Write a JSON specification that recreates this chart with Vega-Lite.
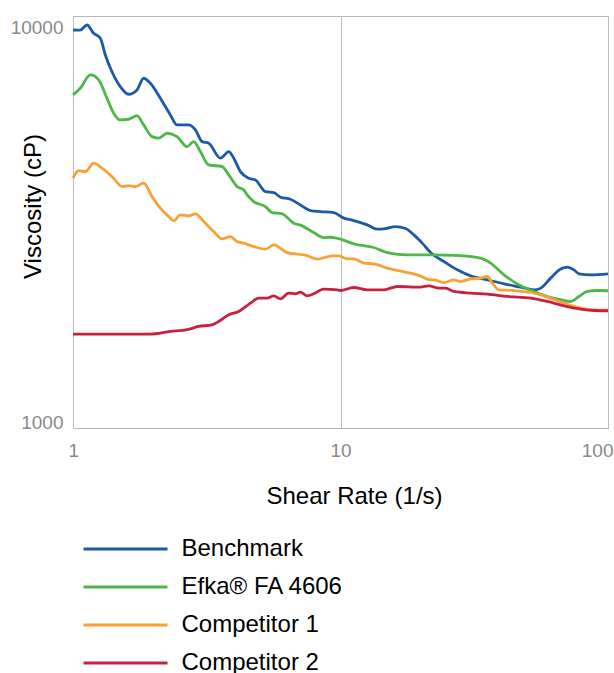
{
  "$schema": "https://vega.github.io/schema/vega-lite/v6.json",
  "width": 535,
  "height": 412,
  "autosize": {"type": "none"},
  "padding": {"left": 73, "top": 16, "right": 6, "bottom": 245},
  "config": {
    "font": "Liberation Sans",
    "view": {"stroke": "#b8b8b8", "strokeWidth": 1}
  },
  "data": {
    "values": [
      {"series": "Benchmark", "rate": 1.0, "viscosity": 9884},
      {"series": "Benchmark", "rate": 1.065, "viscosity": 9880},
      {"series": "Benchmark", "rate": 1.128, "viscosity": 10176},
      {"series": "Benchmark", "rate": 1.194, "viscosity": 9696},
      {"series": "Benchmark", "rate": 1.265, "viscosity": 9417},
      {"series": "Benchmark", "rate": 1.321, "viscosity": 8543},
      {"series": "Benchmark", "rate": 1.379, "viscosity": 7918},
      {"series": "Benchmark", "rate": 1.503, "viscosity": 7100},
      {"series": "Benchmark", "rate": 1.614, "viscosity": 6792},
      {"series": "Benchmark", "rate": 1.735, "viscosity": 6965},
      {"series": "Benchmark", "rate": 1.837, "viscosity": 7458},
      {"series": "Benchmark", "rate": 1.946, "viscosity": 7244},
      {"series": "Benchmark", "rate": 2.121, "viscosity": 6636},
      {"series": "Benchmark", "rate": 2.312, "viscosity": 6020},
      {"series": "Benchmark", "rate": 2.449, "viscosity": 5679},
      {"series": "Benchmark", "rate": 2.707, "viscosity": 5679},
      {"series": "Benchmark", "rate": 2.868, "viscosity": 5515},
      {"series": "Benchmark", "rate": 3.038, "viscosity": 5151},
      {"series": "Benchmark", "rate": 3.216, "viscosity": 5104},
      {"series": "Benchmark", "rate": 3.557, "viscosity": 4677},
      {"series": "Benchmark", "rate": 3.821, "viscosity": 4860},
      {"series": "Benchmark", "rate": 3.99, "viscosity": 4677},
      {"series": "Benchmark", "rate": 4.225, "viscosity": 4324},
      {"series": "Benchmark", "rate": 4.538, "viscosity": 4160},
      {"series": "Benchmark", "rate": 4.808, "viscosity": 4120},
      {"series": "Benchmark", "rate": 5.242, "viscosity": 3848},
      {"series": "Benchmark", "rate": 5.629, "viscosity": 3825},
      {"series": "Benchmark", "rate": 5.964, "viscosity": 3724},
      {"series": "Benchmark", "rate": 6.501, "viscosity": 3681},
      {"series": "Benchmark", "rate": 7.085, "viscosity": 3560},
      {"series": "Benchmark", "rate": 7.723, "viscosity": 3444},
      {"series": "Benchmark", "rate": 8.418, "viscosity": 3424},
      {"series": "Benchmark", "rate": 9.439, "viscosity": 3405},
      {"series": "Benchmark", "rate": 10.29, "viscosity": 3295},
      {"series": "Benchmark", "rate": 11.21, "viscosity": 3249},
      {"series": "Benchmark", "rate": 12.59, "viscosity": 3169},
      {"series": "Benchmark", "rate": 13.72, "viscosity": 3090},
      {"series": "Benchmark", "rate": 14.73, "viscosity": 3101},
      {"series": "Benchmark", "rate": 16.06, "viscosity": 3138},
      {"series": "Benchmark", "rate": 17.51, "viscosity": 3101},
      {"series": "Benchmark", "rate": 18.8, "viscosity": 2989},
      {"series": "Benchmark", "rate": 20.21, "viscosity": 2848},
      {"series": "Benchmark", "rate": 21.72, "viscosity": 2696},
      {"series": "Benchmark", "rate": 24.35, "viscosity": 2558},
      {"series": "Benchmark", "rate": 27.33, "viscosity": 2437},
      {"series": "Benchmark", "rate": 30.65, "viscosity": 2353},
      {"series": "Benchmark", "rate": 35.39, "viscosity": 2299},
      {"series": "Benchmark", "rate": 40.83, "viscosity": 2246},
      {"series": "Benchmark", "rate": 47.15, "viscosity": 2203},
      {"series": "Benchmark", "rate": 52.88, "viscosity": 2169},
      {"series": "Benchmark", "rate": 56.0, "viscosity": 2190},
      {"series": "Benchmark", "rate": 61.04, "viscosity": 2322},
      {"series": "Benchmark", "rate": 66.53, "viscosity": 2448},
      {"series": "Benchmark", "rate": 70.49, "viscosity": 2477},
      {"series": "Benchmark", "rate": 74.62, "viscosity": 2437},
      {"series": "Benchmark", "rate": 77.9, "viscosity": 2381},
      {"series": "Benchmark", "rate": 86.15, "viscosity": 2367},
      {"series": "Benchmark", "rate": 100, "viscosity": 2381},

      {"series": "Efka® FA 4606", "rate": 1.0, "viscosity": 6766},
      {"series": "Efka® FA 4606", "rate": 1.065, "viscosity": 7036},
      {"series": "Efka® FA 4606", "rate": 1.161, "viscosity": 7602},
      {"series": "Efka® FA 4606", "rate": 1.247, "viscosity": 7385},
      {"series": "Efka® FA 4606", "rate": 1.34, "viscosity": 6636},
      {"series": "Efka® FA 4606", "rate": 1.419, "viscosity": 6080},
      {"series": "Efka® FA 4606", "rate": 1.503, "viscosity": 5846},
      {"series": "Efka® FA 4606", "rate": 1.614, "viscosity": 5870},
      {"series": "Efka® FA 4606", "rate": 1.735, "viscosity": 5995},
      {"series": "Efka® FA 4606", "rate": 1.837, "viscosity": 5679},
      {"series": "Efka® FA 4606", "rate": 1.975, "viscosity": 5304},
      {"series": "Efka® FA 4606", "rate": 2.09, "viscosity": 5255},
      {"series": "Efka® FA 4606", "rate": 2.247, "viscosity": 5410},
      {"series": "Efka® FA 4606", "rate": 2.449, "viscosity": 5304},
      {"series": "Efka® FA 4606", "rate": 2.67, "viscosity": 5004},
      {"series": "Efka® FA 4606", "rate": 2.826, "viscosity": 5151},
      {"series": "Efka® FA 4606", "rate": 2.994, "viscosity": 4860},
      {"series": "Efka® FA 4606", "rate": 3.216, "viscosity": 4497},
      {"series": "Efka® FA 4606", "rate": 3.609, "viscosity": 4453},
      {"series": "Efka® FA 4606", "rate": 3.821, "viscosity": 4241},
      {"series": "Efka® FA 4606", "rate": 4.107, "viscosity": 3962},
      {"series": "Efka® FA 4606", "rate": 4.346, "viscosity": 3887},
      {"series": "Efka® FA 4606", "rate": 4.477, "viscosity": 3775},
      {"series": "Efka® FA 4606", "rate": 4.739, "viscosity": 3630},
      {"series": "Efka® FA 4606", "rate": 5.242, "viscosity": 3526},
      {"series": "Efka® FA 4606", "rate": 5.551, "viscosity": 3405},
      {"series": "Efka® FA 4606", "rate": 6.051, "viscosity": 3379},
      {"series": "Efka® FA 4606", "rate": 6.689, "viscosity": 3200},
      {"series": "Efka® FA 4606", "rate": 7.191, "viscosity": 3150},
      {"series": "Efka® FA 4606", "rate": 7.945, "viscosity": 3029},
      {"series": "Efka® FA 4606", "rate": 8.659, "viscosity": 2942},
      {"series": "Efka® FA 4606", "rate": 9.175, "viscosity": 2948},
      {"series": "Efka® FA 4606", "rate": 10.0, "viscosity": 2915},
      {"series": "Efka® FA 4606", "rate": 11.21, "viscosity": 2836},
      {"series": "Efka® FA 4606", "rate": 13.32, "viscosity": 2776},
      {"series": "Efka® FA 4606", "rate": 14.95, "viscosity": 2696},
      {"series": "Efka® FA 4606", "rate": 17.77, "viscosity": 2660},
      {"series": "Efka® FA 4606", "rate": 21.72, "viscosity": 2660},
      {"series": "Efka® FA 4606", "rate": 28.11, "viscosity": 2649},
      {"series": "Efka® FA 4606", "rate": 33.4, "viscosity": 2609},
      {"series": "Efka® FA 4606", "rate": 36.4, "viscosity": 2534},
      {"series": "Efka® FA 4606", "rate": 40.83, "viscosity": 2367},
      {"series": "Efka® FA 4606", "rate": 47.15, "viscosity": 2220},
      {"series": "Efka® FA 4606", "rate": 52.88, "viscosity": 2148},
      {"series": "Efka® FA 4606", "rate": 59.33, "viscosity": 2086},
      {"series": "Efka® FA 4606", "rate": 66.53, "viscosity": 2047},
      {"series": "Efka® FA 4606", "rate": 72.53, "viscosity": 2026},
      {"series": "Efka® FA 4606", "rate": 77.9, "viscosity": 2086},
      {"series": "Efka® FA 4606", "rate": 83.73, "viscosity": 2148},
      {"series": "Efka® FA 4606", "rate": 91.26, "viscosity": 2160},
      {"series": "Efka® FA 4606", "rate": 100, "viscosity": 2157},

      {"series": "Competitor 1", "rate": 1.0, "viscosity": 4160},
      {"series": "Competitor 1", "rate": 1.049, "viscosity": 4350},
      {"series": "Competitor 1", "rate": 1.112, "viscosity": 4324},
      {"series": "Competitor 1", "rate": 1.194, "viscosity": 4542},
      {"series": "Competitor 1", "rate": 1.284, "viscosity": 4411},
      {"series": "Competitor 1", "rate": 1.419, "viscosity": 4160},
      {"series": "Competitor 1", "rate": 1.525, "viscosity": 3962},
      {"series": "Competitor 1", "rate": 1.614, "viscosity": 3985},
      {"series": "Competitor 1", "rate": 1.711, "viscosity": 3962},
      {"series": "Competitor 1", "rate": 1.837, "viscosity": 4042},
      {"series": "Competitor 1", "rate": 1.975, "viscosity": 3737},
      {"series": "Competitor 1", "rate": 2.121, "viscosity": 3493},
      {"series": "Competitor 1", "rate": 2.279, "viscosity": 3326},
      {"series": "Competitor 1", "rate": 2.378, "viscosity": 3245},
      {"series": "Competitor 1", "rate": 2.52, "viscosity": 3359},
      {"series": "Competitor 1", "rate": 2.707, "viscosity": 3340},
      {"series": "Competitor 1", "rate": 2.868, "viscosity": 3379},
      {"series": "Competitor 1", "rate": 3.08, "viscosity": 3231},
      {"series": "Competitor 1", "rate": 3.357, "viscosity": 3047},
      {"series": "Competitor 1", "rate": 3.609, "viscosity": 2920},
      {"series": "Competitor 1", "rate": 3.877, "viscosity": 2960},
      {"series": "Competitor 1", "rate": 4.107, "viscosity": 2875},
      {"series": "Competitor 1", "rate": 4.346, "viscosity": 2848},
      {"series": "Competitor 1", "rate": 4.739, "viscosity": 2792},
      {"series": "Competitor 1", "rate": 5.242, "viscosity": 2750},
      {"series": "Competitor 1", "rate": 5.629, "viscosity": 2820},
      {"series": "Competitor 1", "rate": 6.318, "viscosity": 2696},
      {"series": "Competitor 1", "rate": 7.507, "viscosity": 2649},
      {"series": "Competitor 1", "rate": 8.181, "viscosity": 2594},
      {"series": "Competitor 1", "rate": 9.31, "viscosity": 2644},
      {"series": "Competitor 1", "rate": 9.854, "viscosity": 2644},
      {"series": "Competitor 1", "rate": 10.59, "viscosity": 2598},
      {"series": "Competitor 1", "rate": 11.21, "viscosity": 2598},
      {"series": "Competitor 1", "rate": 12.22, "viscosity": 2534},
      {"series": "Competitor 1", "rate": 13.32, "viscosity": 2524},
      {"series": "Competitor 1", "rate": 14.95, "viscosity": 2461},
      {"series": "Competitor 1", "rate": 17.77, "viscosity": 2399},
      {"series": "Competitor 1", "rate": 19.36, "viscosity": 2367},
      {"series": "Competitor 1", "rate": 21.72, "viscosity": 2299},
      {"series": "Competitor 1", "rate": 22.34, "viscosity": 2299},
      {"series": "Competitor 1", "rate": 24.35, "viscosity": 2263},
      {"series": "Competitor 1", "rate": 26.54, "viscosity": 2299},
      {"series": "Competitor 1", "rate": 28.11, "viscosity": 2276},
      {"series": "Competitor 1", "rate": 30.65, "viscosity": 2312},
      {"series": "Competitor 1", "rate": 33.4, "viscosity": 2322},
      {"series": "Competitor 1", "rate": 35.39, "viscosity": 2344},
      {"series": "Competitor 1", "rate": 36.94, "viscosity": 2255},
      {"series": "Competitor 1", "rate": 39.1, "viscosity": 2169},
      {"series": "Competitor 1", "rate": 44.5, "viscosity": 2160},
      {"series": "Competitor 1", "rate": 51.39, "viscosity": 2135},
      {"series": "Competitor 1", "rate": 59.33, "viscosity": 2079},
      {"series": "Competitor 1", "rate": 68.45, "viscosity": 2006},
      {"series": "Competitor 1", "rate": 79.06, "viscosity": 1949},
      {"series": "Competitor 1", "rate": 88.62, "viscosity": 1930},
      {"series": "Competitor 1", "rate": 100, "viscosity": 1927},

      {"series": "Competitor 2", "rate": 1.0, "viscosity": 1675},
      {"series": "Competitor 2", "rate": 1.946, "viscosity": 1675},
      {"series": "Competitor 2", "rate": 2.312, "viscosity": 1701},
      {"series": "Competitor 2", "rate": 2.67, "viscosity": 1718},
      {"series": "Competitor 2", "rate": 2.951, "viscosity": 1751},
      {"series": "Competitor 2", "rate": 3.311, "viscosity": 1768},
      {"series": "Competitor 2", "rate": 3.505, "viscosity": 1803},
      {"series": "Competitor 2", "rate": 3.821, "viscosity": 1875},
      {"series": "Competitor 2", "rate": 4.164, "viscosity": 1911},
      {"series": "Competitor 2", "rate": 4.606, "viscosity": 2006},
      {"series": "Competitor 2", "rate": 4.947, "viscosity": 2066},
      {"series": "Competitor 2", "rate": 5.318, "viscosity": 2066},
      {"series": "Competitor 2", "rate": 5.629, "viscosity": 2094},
      {"series": "Competitor 2", "rate": 5.964, "viscosity": 2058},
      {"series": "Competitor 2", "rate": 6.406, "viscosity": 2127},
      {"series": "Competitor 2", "rate": 6.784, "viscosity": 2119},
      {"series": "Competitor 2", "rate": 7.085, "viscosity": 2140},
      {"series": "Competitor 2", "rate": 7.507, "viscosity": 2094},
      {"series": "Competitor 2", "rate": 7.945, "viscosity": 2119},
      {"series": "Competitor 2", "rate": 8.659, "viscosity": 2178},
      {"series": "Competitor 2", "rate": 9.72, "viscosity": 2169},
      {"series": "Competitor 2", "rate": 10.0, "viscosity": 2160},
      {"series": "Competitor 2", "rate": 11.21, "viscosity": 2198},
      {"series": "Competitor 2", "rate": 12.59, "viscosity": 2169},
      {"series": "Competitor 2", "rate": 14.52, "viscosity": 2169},
      {"series": "Competitor 2", "rate": 16.3, "viscosity": 2211},
      {"series": "Competitor 2", "rate": 19.92, "viscosity": 2203},
      {"series": "Competitor 2", "rate": 21.39, "viscosity": 2220},
      {"series": "Competitor 2", "rate": 23.32, "viscosity": 2190},
      {"series": "Competitor 2", "rate": 24.71, "viscosity": 2190},
      {"series": "Competitor 2", "rate": 26.54, "viscosity": 2148},
      {"series": "Competitor 2", "rate": 30.65, "viscosity": 2127},
      {"series": "Competitor 2", "rate": 35.39, "viscosity": 2115},
      {"series": "Competitor 2", "rate": 42.04, "viscosity": 2086},
      {"series": "Competitor 2", "rate": 51.39, "viscosity": 2066},
      {"series": "Competitor 2", "rate": 59.33, "viscosity": 2026},
      {"series": "Competitor 2", "rate": 68.45, "viscosity": 1975},
      {"series": "Competitor 2", "rate": 79.06, "viscosity": 1938},
      {"series": "Competitor 2", "rate": 88.62, "viscosity": 1922},
      {"series": "Competitor 2", "rate": 100, "viscosity": 1919}
    ]
  },
  "mark": {"type": "line", "interpolate": "monotone", "strokeWidth": 2.8},
  "encoding": {
    "x": {
      "field": "rate",
      "type": "quantitative",
      "scale": {"type": "log", "domain": [1, 100], "nice": false},
      "axis": {
        "title": "Shear Rate (1/s)",
        "values": [1, 10, 100],
        "format": "d",
        "ticks": false,
        "tickSize": 0,
        "domain": false,
        "grid": true,
        "gridColor": "#bdbdbd",
        "gridWidth": 1,
        "labelFontSize": 19,
        "labelColor": "#8a8a8a",
        "labelPadding": 13,
        "labelFlush": true,
        "labelFlushOffset": 5,
        "labelDx": -2,
        "titleFontSize": 24,
        "titleFontWeight": "normal",
        "titleColor": "#000000",
        "titleX": 281,
        "titleY": 75,
        "titleAlign": "center",
        "titleBaseline": "alphabetic"
      }
    },
    "y": {
      "field": "viscosity",
      "type": "quantitative",
      "scale": {"type": "log", "domain": [968, 10725], "nice": false, "zero": false},
      "axis": {
        "title": "Viscosity (cP)",
        "values": [1000, 10000],
        "format": "d",
        "ticks": false,
        "tickSize": 0,
        "domain": false,
        "grid": false,
        "labelFontSize": 19,
        "labelColor": "#8a8a8a",
        "labelPadding": 10,
        "titleFontSize": 24,
        "titleFontWeight": "normal",
        "titleColor": "#000000",
        "titleX": -33,
        "titleY": 190,
        "titleAngle": 270,
        "titleAlign": "center",
        "titleBaseline": "alphabetic"
      }
    },
    "color": {
      "field": "series",
      "type": "nominal",
      "sort": ["Benchmark", "Efka® FA 4606", "Competitor 1", "Competitor 2"],
      "scale": {
        "domain": ["Benchmark", "Efka® FA 4606", "Competitor 1", "Competitor 2"],
        "range": ["#1c5aa6", "#4fb748", "#f9a134", "#cb1f3f"]
      },
      "legend": {
        "title": null,
        "orient": "none",
        "legendX": 9,
        "legendY": 521,
        "direction": "vertical",
        "symbolType": "M-4,0L4,0",
        "symbolSize": 441,
        "symbolStrokeWidth": 3,
        "symbolOffset": 31.5,
        "labelFontSize": 24,
        "labelColor": "#000000",
        "labelOffset": 44,
        "labelLimit": 400,
        "rowPadding": 14
      }
    }
  }
}
